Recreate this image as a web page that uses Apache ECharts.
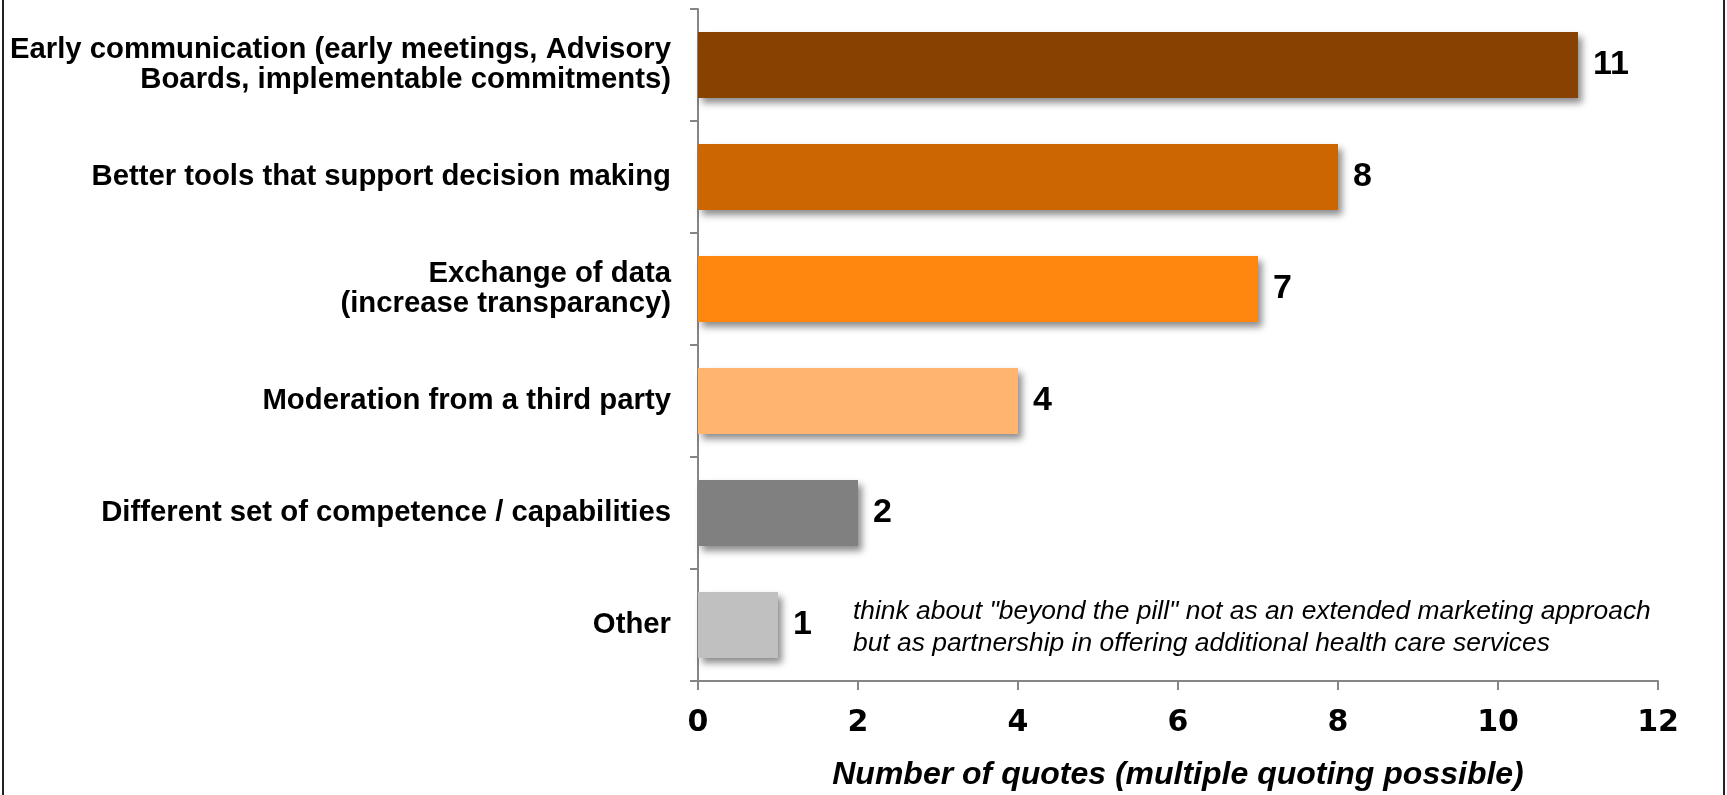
<!DOCTYPE html>
<html>
<head>
<meta charset="utf-8">
<script src="https://cdn.jsdelivr.net/npm/echarts@6/dist/echarts.min.js"></script>
<style>
html,body{margin:0;padding:0;background:#fff;}
#chart{width:1727px;height:795px;}
</style>
</head>
<body>
<div id="chart"></div>
<script>
const categories = [
  'Early communication (early meetings, Advisory\nBoards, implementable commitments)',
  'Better tools that support decision making',
  'Exchange of data\n(increase transparancy)',
  'Moderation from a third party',
  'Different set of competence / capabilities',
  'Other'
];
const values = [11, 8, 7, 4, 2, 1];
const barColors = ['#874100', '#CC6600', '#FF870F', '#FFB570', '#808080', '#C0C0C0'];
const xTicks = [0, 2, 4, 6, 8, 10, 12];
const xTitle = 'Number of quotes (multiple quoting possible)';
const note = 'think about "beyond the pill" not as an extended marketing approach\nbut as partnership in offering additional health care services';

const FONT = '"Liberation Sans", Arial, sans-serif';
const WIDE = '"DejaVu Sans", sans-serif';
const chart = echarts.init(document.getElementById('chart'));
const option = {
  animation: false,
  grid: {left: 698, right: 69, top: 9, bottom: 114, containLabel: false, outerBoundsMode: 'none'},
  xAxis: {
    type: 'value', min: xTicks[0], max: xTicks[xTicks.length - 1], interval: 2,
    axisLine: {show: true, lineStyle: {color: '#868686', width: 2}},
    axisTick: {show: true, length: 9, lineStyle: {color: '#868686', width: 2}},
    splitLine: {show: false},
    axisLabel: {fontFamily: WIDE, fontWeight: 'bold', fontSize: 30, color: '#000', margin: 27},
    name: xTitle, nameLocation: 'middle', nameGap: 78,
    nameTextStyle: {fontFamily: FONT, fontWeight: 'bold', fontStyle: 'italic', fontSize: 32, color: '#000'}
  },
  yAxis: {
    type: 'category', data: categories, inverse: true,
    axisLine: {show: true, lineStyle: {color: '#868686', width: 2}},
    axisTick: {show: true, length: 8, lineStyle: {color: '#868686', width: 2}},
    axisLabel: {fontFamily: FONT, fontWeight: 'bold', fontSize: 29.3, color: '#000', margin: 27, lineHeight: 30, align: 'right'}
  },
  series: [{
    type: 'bar',
    data: values.map((v, i) => ({value: v, itemStyle: {color: barColors[i]}})),
    barWidth: 66,
    itemStyle: {shadowBlur: 7, shadowOffsetX: 4, shadowOffsetY: 5, shadowColor: 'rgba(0,0,0,0.45)'},
    label: {show: true, position: 'right', distance: 15, fontFamily: FONT, fontWeight: 'bold', fontSize: 34, color: '#000'}
  }],
  graphic: [
    {type: 'line', shape: {x1: 3, y1: 0, x2: 3, y2: 795}, style: {stroke: '#222', lineWidth: 2}},
    {type: 'line', shape: {x1: 1724, y1: 0, x2: 1724, y2: 795}, style: {stroke: '#222', lineWidth: 2}},
    {type: 'text', left: 853, top: 596, style: {text: note, font: 'italic 26.4px ' + FONT, fill: '#000', lineHeight: 32}}
  ]
};
chart.setOption(option);
</script>
</body>
</html>
